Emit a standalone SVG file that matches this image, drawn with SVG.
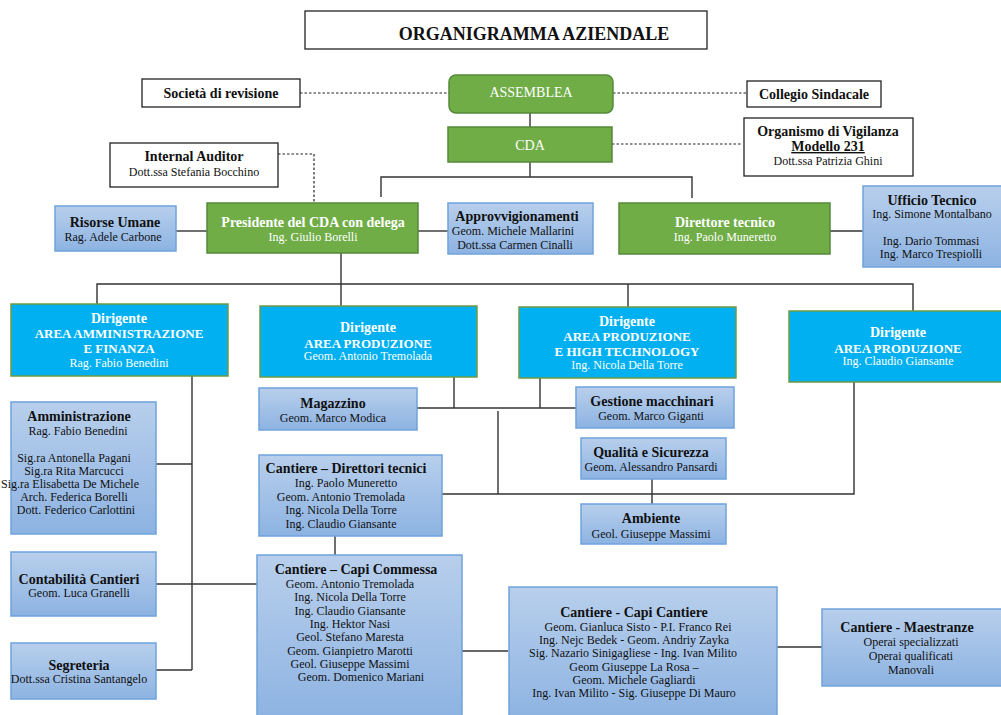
<svg xmlns="http://www.w3.org/2000/svg" width="1001" height="715" viewBox="0 0 1001 715">
<defs>
<linearGradient id="bg" x1="0" y1="0" x2="0" y2="1">
<stop offset="0" stop-color="#B8CFEC"/>
<stop offset="1" stop-color="#8DB3E2"/>
</linearGradient>
</defs>
<style>
text{font-family:"Liberation Serif","Times New Roman",serif;text-anchor:middle}
.b{font-weight:bold;font-size:14px;fill:#111}
.n{font-size:12px;fill:#111}
.w{fill:#fff}
.blue{fill:url(#bg);stroke:#6FA3DC;stroke-width:1.5}
.green{fill:#70AD47;stroke:#55893A;stroke-width:1.5}
.cyan{fill:#00B0F0;stroke:#6E9B43;stroke-width:1.5}
.plain{fill:#fff;stroke:#222;stroke-width:1.3}
.ln{stroke:#333;stroke-width:1.4;fill:none}
.dot{stroke:#222;stroke-width:1.2;fill:none;stroke-dasharray:2.5 2}
</style>
<rect width="1001" height="715" fill="#fff"/>

<g id="connectors">
<path class="dot" d="M300,93 H449"/>
<path class="dot" d="M613,93 H747"/>
<path class="dot" d="M612,144 H742"/>
<path class="dot" d="M278,154 H314 V203"/>
<path class="ln" d="M530,113 V127"/>
<path class="ln" d="M530,162 V177"/>
<path class="ln" d="M381,197 V177 H692 V198"/>
<path class="ln" d="M176,231 H207"/>
<path class="ln" d="M418,231 H448"/>
<path class="ln" d="M830,231 H863"/>
<path class="ln" d="M341,253 V306"/>
<path class="ln" d="M97,304 V284 H913 V311"/>
<path class="ln" d="M628,284 V307"/>
<path class="ln" d="M192,376 V670"/>
<path class="ln" d="M156,464 H192"/>
<path class="ln" d="M156,584 H257"/>
<path class="ln" d="M156,670 H192"/>
<path class="ln" d="M454,377 V408"/>
<path class="ln" d="M540,378 V408"/>
<path class="ln" d="M417,408 H576"/>
<path class="ln" d="M498,411 V494"/>
<path class="ln" d="M442,494 H854 V382"/>
<path class="ln" d="M652,479 V504"/>
<path class="ln" d="M335,536 V555"/>
<path class="ln" d="M462,651 H508"/>
<path class="ln" d="M777,647 H822"/>
</g>

<g id="title">
<rect class="plain" x="305" y="11" width="402" height="38"/>
<text x="534" y="40" style="font-weight:bold;font-size:18px;fill:#111">ORGANIGRAMMA AZIENDALE</text>
</g>

<g id="assemblea">
<rect class="green" x="449" y="75" width="164" height="38" rx="7"/>
<text class="w" x="531" y="97" style="font-size:14px">ASSEMBLEA</text>
</g>

<g id="cda">
<rect class="green" x="448" y="127" width="164" height="35"/>
<text class="w" x="530" y="150" style="font-size:14px">CDA</text>
</g>

<g id="societa-revisione">
<rect class="plain" x="142" y="79" width="158" height="28"/>
<text class="b" x="221" y="98">Società di revisione</text>
</g>

<g id="collegio-sindacale">
<rect class="plain" x="747" y="81" width="134" height="26"/>
<text class="b" x="814" y="99">Collegio Sindacale</text>
</g>

<g id="organismo-vigilanza">
<rect class="plain" x="744" y="118" width="169" height="58"/>
<text class="b" x="828" y="136">Organismo di Vigilanza</text>
<text class="b" x="828" y="151" text-decoration="underline">Modello 231</text>
<text class="n" x="828" y="165">Dott.ssa Patrizia Ghini</text>
</g>

<g id="internal-auditor">
<rect class="plain" x="110" y="143" width="168" height="44"/>
<text class="b" x="194" y="161">Internal Auditor</text>
<text class="n" x="194" y="176">Dott.ssa Stefania Bocchino</text>
</g>

<g id="presidente">
<rect class="green" x="207" y="203" width="211" height="50"/>
<text class="b w" x="313" y="227">Presidente del CDA con delega</text>
<text class="n w" x="313" y="241">Ing. Giulio Borelli</text>
</g>

<g id="risorse-umane">
<rect class="blue" x="55" y="206" width="121" height="45"/>
<text class="b" x="115" y="227">Risorse Umane</text>
<text class="n" x="113" y="241">Rag. Adele Carbone</text>
</g>

<g id="approvvigionamenti">
<rect class="blue" x="448" y="203" width="145" height="51"/>
<text class="b" x="517" y="221">Approvvigionamenti</text>
<text class="n" x="513" y="235">Geom. Michele Mallarini</text>
<text class="n" x="515" y="249">Dott.ssa Carmen Cinalli</text>
</g>

<g id="direttore-tecnico">
<rect class="green" x="619" y="203" width="211" height="51"/>
<text class="b w" x="725" y="227">Direttore tecnico</text>
<text class="n w" x="725" y="241">Ing. Paolo Muneretto</text>
</g>

<g id="ufficio-tecnico">
<rect class="blue" x="863" y="186" width="140" height="81"/>
<text class="b" x="932" y="205">Ufficio Tecnico</text>
<text class="n" x="932" y="218">Ing. Simone Montalbano</text>
<text class="n" x="931" y="245">Ing. Dario Tommasi</text>
<text class="n" x="931" y="258">Ing. Marco Trespiolli</text>
</g>

<g id="dirigente-amministrazione">
<rect class="cyan" x="11" y="304" width="217" height="72"/>
<text class="w" x="119" y="323" style="font-weight:bold;font-size:14px">Dirigente</text>
<text class="w" x="119" y="338" style="font-weight:bold;font-size:13px">AREA AMMINISTRAZIONE</text>
<text class="w" x="119" y="353" style="font-weight:bold;font-size:13px">E FINANZA</text>
<text class="n w" x="119" y="367">Rag. Fabio Benedini</text>
</g>

<g id="dirigente-produzione-1">
<rect class="cyan" x="260" y="306" width="217" height="71"/>
<text class="w" x="368" y="332" style="font-weight:bold;font-size:14px">Dirigente</text>
<text class="w" x="368" y="348" style="font-weight:bold;font-size:13px">AREA PRODUZIONE</text>
<text class="n w" x="368" y="360">Geom. Antonio Tremolada</text>
</g>

<g id="dirigente-high-tech">
<rect class="cyan" x="519" y="307" width="217" height="71"/>
<text class="w" x="627" y="326" style="font-weight:bold;font-size:14px">Dirigente</text>
<text class="w" x="627" y="341" style="font-weight:bold;font-size:13px">AREA PRODUZIONE</text>
<text class="w" x="627" y="356" style="font-weight:bold;font-size:13px">E HIGH TECHNOLOGY</text>
<text class="n w" x="627" y="369">Ing. Nicola Della Torre</text>
</g>

<g id="dirigente-produzione-2">
<rect class="cyan" x="789" y="311" width="215" height="71"/>
<text class="w" x="898" y="337" style="font-weight:bold;font-size:14px">Dirigente</text>
<text class="w" x="898" y="353" style="font-weight:bold;font-size:13px">AREA PRODUZIONE</text>
<text class="n w" x="898" y="365">Ing. Claudio Giansante</text>
</g>

<g id="amministrazione">
<rect class="blue" x="11" y="402" width="145" height="132"/>
<text class="b" x="79" y="421">Amministrazione</text>
<text class="n" x="78" y="435">Rag. Fabio Benedini</text>
<text class="n" x="74" y="462">Sig.ra Antonella Pagani</text>
<text class="n" x="74" y="475">Sig.ra Rita Marcucci</text>
<text class="n" x="70" y="488">Sig.ra Elisabetta De Michele</text>
<text class="n" x="74" y="501">Arch. Federica Borelli</text>
<text class="n" x="76" y="514">Dott. Federico Carlottini</text>
</g>

<g id="contabilita-cantieri">
<rect class="blue" x="11" y="552" width="145" height="64"/>
<text class="b" x="79" y="584">Contabilità Cantieri</text>
<text class="n" x="79" y="597">Geom. Luca Granelli</text>
</g>

<g id="segreteria">
<rect class="blue" x="11" y="643" width="145" height="56"/>
<text class="b" x="79" y="670">Segreteria</text>
<text class="n" x="79" y="683">Dott.ssa Cristina Santangelo</text>
</g>

<g id="magazzino">
<rect class="blue" x="259" y="388" width="158" height="42"/>
<text class="b" x="333" y="408">Magazzino</text>
<text class="n" x="333" y="422">Geom. Marco Modica</text>
</g>

<g id="gestione-macchinari">
<rect class="blue" x="576" y="387" width="158" height="41"/>
<text class="b" x="652" y="406">Gestione macchinari</text>
<text class="n" x="651" y="420">Geom. Marco Giganti</text>
</g>

<g id="qualita-sicurezza">
<rect class="blue" x="581" y="438" width="145" height="41"/>
<text class="b" x="651" y="457">Qualità e Sicurezza</text>
<text class="n" x="651" y="471">Geom. Alessandro Pansardi</text>
</g>

<g id="ambiente">
<rect class="blue" x="581" y="504" width="145" height="40"/>
<text class="b" x="651" y="523">Ambiente</text>
<text class="n" x="651" y="538">Geol. Giuseppe Massimi</text>
</g>

<g id="direttori-tecnici">
<rect class="blue" x="259" y="455" width="183" height="81"/>
<text class="b" x="346" y="473">Cantiere – Direttori tecnici</text>
<text class="n" x="346" y="487">Ing. Paolo Muneretto</text>
<text class="n" x="341" y="501">Geom. Antonio Tremolada</text>
<text class="n" x="341" y="514">Ing. Nicola Della Torre</text>
<text class="n" x="341" y="528">Ing. Claudio Giansante</text>
</g>

<g id="capi-commessa">
<rect class="blue" x="257" y="555" width="205" height="165"/>
<text class="b" x="356" y="574">Cantiere – Capi Commessa</text>
<text class="n" x="350" y="588">Geom. Antonio Tremolada</text>
<text class="n" x="350" y="601">Ing. Nicola Della Torre</text>
<text class="n" x="350" y="615">Ing. Claudio Giansante</text>
<text class="n" x="350" y="628">Ing. Hektor Nasi</text>
<text class="n" x="350" y="641">Geol. Stefano Maresta</text>
<text class="n" x="350" y="655">Geom. Gianpietro Marotti</text>
<text class="n" x="350" y="668">Geol. Giuseppe Massimi</text>
<text class="n" x="361" y="681">Geom. Domenico Mariani</text>
</g>

<g id="capi-cantiere">
<rect class="blue" x="509" y="587" width="268" height="133"/>
<text class="b" x="634" y="617">Cantiere - Capi Cantiere</text>
<text class="n" x="638" y="631">Geom. Gianluca Sisto - P.I. Franco Rei</text>
<text class="n" x="634" y="644">Ing. Nejc Bedek - Geom. Andriy Zayka</text>
<text class="n" x="633" y="657">Sig. Nazario Sinigagliese - Ing. Ivan Milito</text>
<text class="n" x="634" y="671">Geom Giuseppe La Rosa –</text>
<text class="n" x="634" y="684">Geom. Michele Gagliardi</text>
<text class="n" x="634" y="697">Ing. Ivan Milito - Sig. Giuseppe Di Mauro</text>
</g>

<g id="maestranze">
<rect class="blue" x="822" y="609" width="182" height="77"/>
<text class="b" x="907" y="632">Cantiere - Maestranze</text>
<text class="n" x="911" y="646">Operai specializzati</text>
<text class="n" x="911" y="660">Operai qualificati</text>
<text class="n" x="911" y="674">Manovali</text>
</g>
</svg>
